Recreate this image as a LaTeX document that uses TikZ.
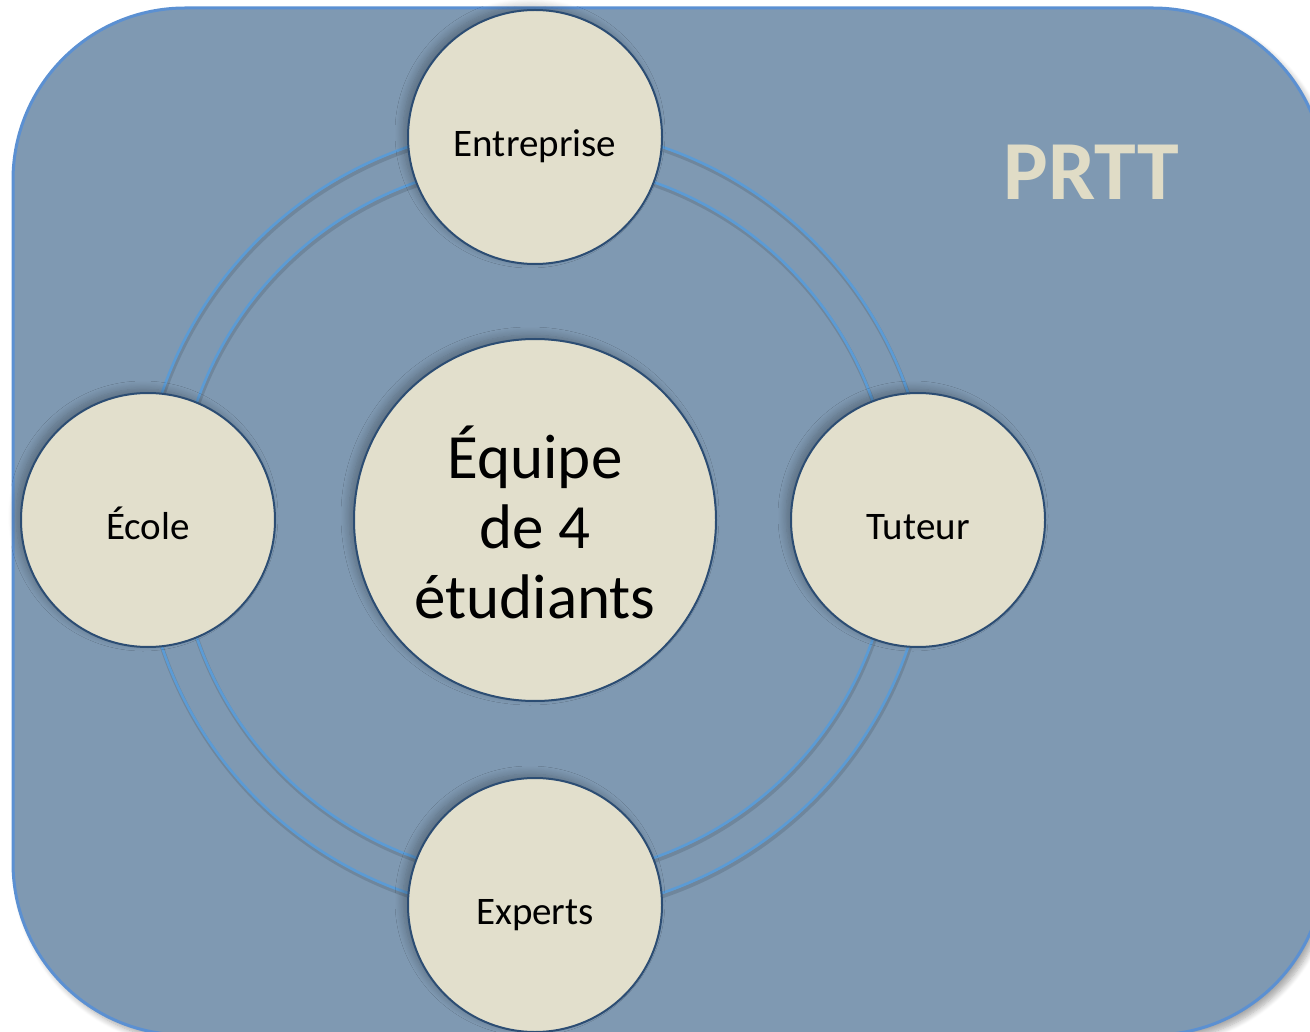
\documentclass[tikz,border=0pt]{standalone}
\usepackage{fontspec}
\setmainfont{Carlito}
\usetikzlibrary{shadows.blur}

\definecolor{panelfill}{HTML}{7F99B2}
\definecolor{panelline}{HTML}{5B90D2}
\definecolor{ringline}{HTML}{5B9BD5}
\definecolor{discfill}{HTML}{E2DFCC}
\definecolor{discline}{HTML}{2C4D73}
\definecolor{titlecol}{HTML}{E0DCC6}

\tikzset{
  panel/.style={fill=panelfill, draw=panelline, line width=3pt, rounded corners=172pt,
    blur shadow={shadow xshift=5pt, shadow yshift=-6pt, shadow blur radius=6pt,
                 shadow blur steps=8, shadow opacity=35}},
  ring/.style={draw=ringline, line width=2.6pt},
  ringshade/.style={draw=black, opacity=0.12, line width=4pt},
  disc/.style={circle, fill=discfill, draw=discline, line width=2pt, inner sep=0pt,
    minimum size=254pt, text height=39pt, text depth=0pt,
    font=\fontsize{39}{44}\selectfont,
    blur shadow={shadow xshift=-5pt, shadow yshift=4pt, shadow blur radius=8pt,
                 shadow blur steps=10, shadow opacity=28}},
  coredisc/.style={disc, minimum size=362pt, align=center,
    font=\fontsize{63}{70}\selectfont, text height=200pt, text depth=4pt},
  title/.style={anchor=base, text=titlecol, font=\fontsize{84}{90}\selectfont\bfseries}
}

\begin{document}
\begin{tikzpicture}[x=1pt, y=-1pt]
  \useasboundingbox (0,0) rectangle (1310,1032);
  \clip (0,0) rectangle (1310,1032);

  % background panel
  \path[panel] (13,8) rectangle (1325,1035);

  % centre of the arrangement
  \coordinate (hub) at (535,520);

  % double ring linking the partners
  \draw[ringshade] ([shift={(1,3)}]hub) circle[radius=394];
  \draw[ringshade] ([shift={(1,3)}]hub) circle[radius=358];
  \draw[ring] (hub) circle[radius=394];
  \draw[ring] (hub) circle[radius=358];

  % partner discs
  \node[disc] (ent) at (535,137) {Entreprise};
  \node[disc] (tut) at (918,520) {Tuteur};
  \node[disc] (eco) at (148,520) {École};
  \node[disc] (exp) at (535,905) {Experts};

  % central team disc
  \node[coredisc] (team) at (hub) {Équipe\\de 4\\étudiants};

  % programme title
  \node[title] (prtt) at (1091,200) {PRTT};
\end{tikzpicture}
\end{document}
